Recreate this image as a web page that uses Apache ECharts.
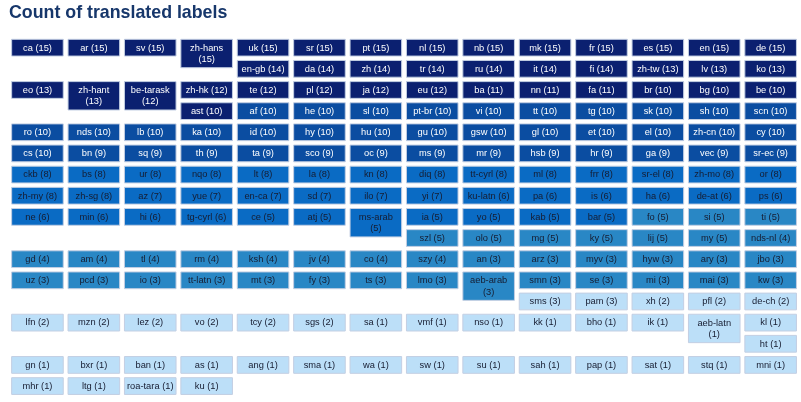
<!DOCTYPE html>
<html><head><meta charset="utf-8">
<script src="https://cdn.jsdelivr.net/npm/echarts@6/dist/echarts.min.js"></script>
<style>html,body{margin:0;padding:0;background:#fff}#c{width:801px;height:402px}</style>
</head><body><div id="c"></div>
<script>
const languages = [
 'ca','ar','sv','zh-hans','uk','sr','pt','nl','nb','mk','fr','es','en','de',
 'en-gb','da','zh','tr','ru','it','fi','zh-tw','lv','ko',
 'eo','zh-hant','be-tarask','zh-hk','te','pl','ja','eu','ba','nn','fa','br','bg','be',
 'ast','af','he','sl','pt-br','vi','tt','tg','sk','sh','scn',
 'ro','nds','lb','ka','id','hy','hu','gu','gsw','gl','et','el','zh-cn','cy',
 'cs','bn','sq','th','ta','sco','oc','ms','mr','hsb','hr','ga','vec','sr-ec',
 'ckb','bs','ur','nqo','lt','la','kn','diq','tt-cyrl','ml','frr','sr-el','zh-mo','or',
 'zh-my','zh-sg','az','yue','en-ca','sd','ilo','yi','ku-latn','pa','is','ha','de-at','ps',
 'ne','min','hi','tg-cyrl','ce','atj','ms-arab','ia','yo','kab','bar','fo','si','ti',
 'szl','olo','mg','ky','lij','my','nds-nl',
 'gd','am','tl','rm','ksh','jv','co','szy','an','arz','myv','hyw','ary','jbo',
 'uz','pcd','io','tt-latn','mt','fy','ts','lmo','aeb-arab','smn','se','mi','mai','kw',
 'sms','pam','xh','pfl','de-ch',
 'lfn','mzn','lez','vo','tcy','sgs','sa','vmf','nso','kk','bho','ik','aeb-latn','kl',
 'ht',
 'gn','bxr','ban','as','ang','sma','wa','sw','su','sah','pap','sat','stq','mni',
 'mhr','ltg','roa-tara','ku'
];
const counts = [
 15,15,15,15,15,15,15,15,15,15,15,15,15,15,
 14,14,14,14,14,14,14,13,13,13,
 13,13,12,12,12,12,12,12,11,11,11,10,10,10,
 10,10,10,10,10,10,10,10,10,10,10,
 10,10,10,10,10,10,10,10,10,10,10,10,10,10,
 10,9,9,9,9,9,9,9,9,9,9,9,9,9,
 8,8,8,8,8,8,8,8,8,8,8,8,8,8,
 8,8,7,7,7,7,7,7,6,6,6,6,6,6,
 6,6,6,6,5,5,5,5,5,5,5,5,5,5,
 5,5,5,5,5,5,4,
 4,4,4,4,4,4,4,4,3,3,3,3,3,3,
 3,3,3,3,3,3,3,3,3,3,3,3,3,3,
 3,3,2,2,2,
 2,2,2,2,2,2,1,1,1,1,1,1,1,1,
 1,
 1,1,1,1,1,1,1,1,1,1,1,1,1,1,
 1,1,1,1
];
const titleText = 'Count of translated labels';

const binColors = ['#0b2070','#0b4da1','#0a6bc4','#2987c5','#bcdff8'];
const textColors = ['#ffffff','#ffffff','#161c30','#161c30','#161c30'];
const FONT = "'Liberation Sans', Arial, Helvetica, sans-serif";
const COLS = 14;
const TALL = 1.551;
const WRAP_EM = 5.06;
const ROW_PX = 21.15;
const MX = 2.4, MY = 2.2;

const labels = languages.map((l, i) => l + ' (' + counts[i] + ')');
const ctx = document.createElement('canvas').getContext('2d');
ctx.font = "100px 'Liberation Sans', Arial";
const wrapped = labels.map(t => ctx.measureText(t).width / 100 > WRAP_EM);

// float (left) layout
const placed = [];
let minY = 0;
const eps = 1e-6;
labels.forEach((t, i) => {
  const h = wrapped[i] ? TALL : 1;
  let y = minY, x;
  for (;;) {
    const ov = placed.filter(p => p.y0 < y + h - eps && p.y1 > y + eps);
    x = ov.reduce((m, p) => Math.max(m, p.x1), 0);
    if (x + 1 <= COLS + eps) break;
    y = Math.min.apply(null, ov.filter(p => p.y1 > y + eps).map(p => p.y1));
  }
  placed.push({x0: x, x1: x + 1, y0: y, y1: y + h});
  minY = y;
});
const n = labels.length;
const totalRows = Math.max.apply(null, placed.map(p => p.y1));
const items = placed.map((p, i) => ({
  value: [p.x0, p.y0, p.y1 - p.y0, Math.floor(i * 5 / n)],
  text: wrapped[i] ? labels[i].replace(' (', '\n(') : labels[i]
}));

const chart = echarts.init(document.getElementById('c'), null, {renderer: 'canvas'});
chart.setOption({
  animation: false,
  title: {
    text: titleText, left: 9, top: 4, padding: 0,
    textStyle: {fontSize: 17.8, fontWeight: 'bold', color: '#17376b', fontFamily: FONT}
  },
  grid: {left: 9.25, top: 37.1, width: 14 * 56.4, height: totalRows * ROW_PX},
  xAxis: {type: 'value', min: 0, max: COLS, show: false},
  yAxis: {type: 'value', min: 0, max: totalRows, inverse: true, show: false},
  series: [{
    type: 'custom',
    encode: {x: 0, y: 1},
    data: items.map(d => d.value),
    renderItem: function (params, api) {
      const c = api.value(0), y = api.value(1), h = api.value(2), b = api.value(3);
      const p0 = api.coord([c, y]), p1 = api.coord([c + 1, y + h]);
      const it = items[params.dataIndex];
      const x0 = p0[0] + MX, y0 = p0[1] + MY;
      const w = p1[0] - p0[0] - 2 * MX, hh = p1[1] - p0[1] - 2 * MY;
      return {
        type: 'group',
        children: [{
          type: 'rect',
          shape: {x: x0, y: y0, width: w, height: hh},
          style: {fill: binColors[b], stroke: '#c3cfe3', lineWidth: 1}
        }, {
          type: 'text',
          x: x0 + w / 2, y: y0 + hh / 2 + 0.3,
          style: {text: it.text, fill: textColors[b],
                  fontSize: 9.3, fontFamily: FONT,
                  align: 'center', verticalAlign: 'middle', lineHeight: 11.6}
        }]
      };
    }
  }]
});
</script>
</body></html>
